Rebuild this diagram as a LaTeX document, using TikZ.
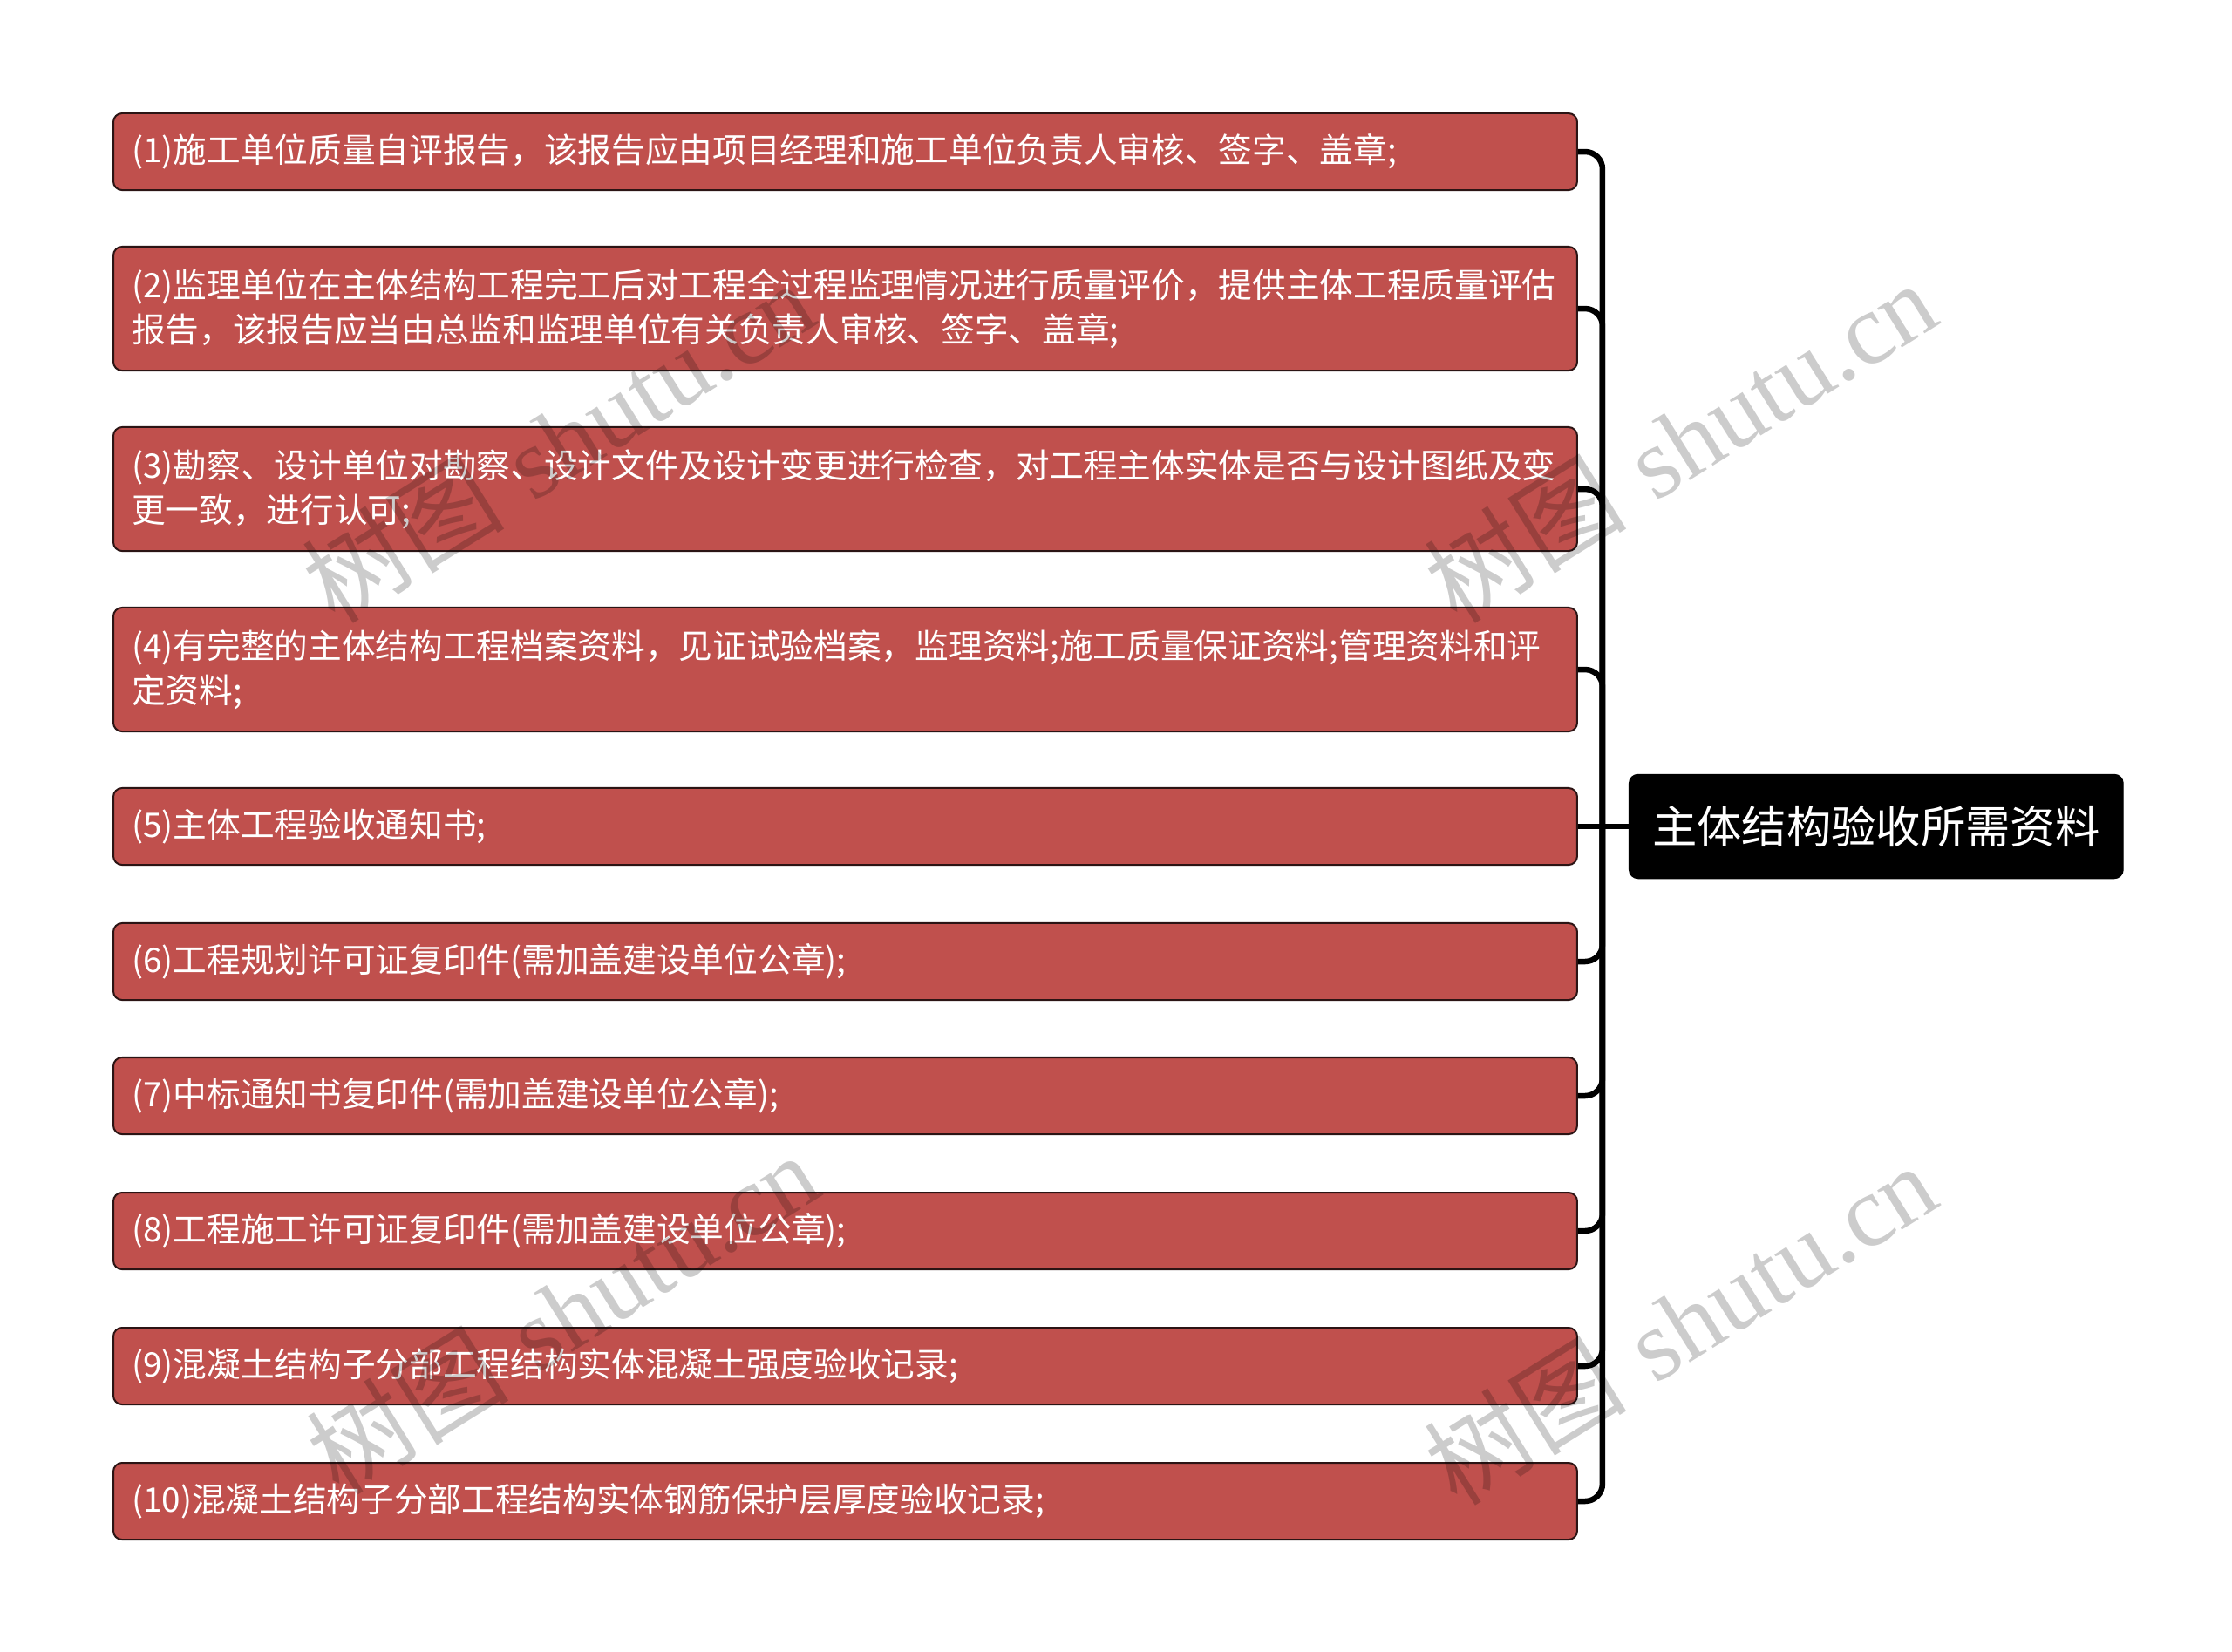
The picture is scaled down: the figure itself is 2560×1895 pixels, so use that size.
\documentclass[tikz,border=0pt]{standalone}
\usepackage{fontspec}
\newfontfamily\cjk{Noto Sans CJK SC}
\newfontfamily\wmserif{Liberation Serif}
\definecolor{leafred}{HTML}{C0504D}
\definecolor{leafborder}{HTML}{2B1414}
\tikzset{
  leaf/.style={rectangle, rounded corners=0.1cm, fill=leafred, draw=leafborder,
    line width=0.02cm, text=white, font=\cjk\fontsize{11}{14.5}\selectfont,
    inner xsep=0.21cm, inner ysep=0cm, text width=16.36cm, align=left,
    anchor=north west},
  single/.style={minimum height=0.88cm},
  double/.style={minimum height=1.42cm},
  rootbox/.style={rectangle, rounded corners=0.1cm, fill=black, draw=black,
    text=white, font=\cjk\fontsize{14.6}{18}\selectfont,
    minimum width=5.66cm, minimum height=1.19cm, anchor=west, inner sep=0pt},
  conn/.style={draw=black, line width=0.065cm, rounded corners=0.2cm},
  wm/.style={text=black, text opacity=0.2, rotate=32, inner sep=0pt,
    font=\fontsize{33}{33}\selectfont}
}
\newcommand{\wmtext}{{\cjk 树图}\hspace{0.3em}{\wmserif shutu.cn}}
\begin{document}
\begin{tikzpicture}[x=0.01cm, y=-0.01cm]
\path[use as bounding box, fill=white] (0,0) rectangle (2560,1895);

\node[leaf, single] (b1) at (129,129) {(1)施工单位质量自评报告，该报告应由项目经理和施工单位负责人审核、签字、盖章;};
\node[leaf, double] (b2) at (129,282) {(2)监理单位在主体结构工程完工后对工程全过程监理情况进行质量评价，提供主体工程质量评估\\报告，该报告应当由总监和监理单位有关负责人审核、签字、盖章;};
\node[leaf, double] (b3) at (129,489) {(3)勘察、设计单位对勘察、设计文件及设计变更进行检查，对工程主体实体是否与设计图纸及变\\更一致，进行认可;};
\node[leaf, double] (b4) at (129,696) {(4)有完整的主体结构工程档案资料，见证试验档案，监理资料;施工质量保证资料;管理资料和评\\定资料;};
\node[leaf, single] (b5) at (129,903) {(5)主体工程验收通知书;};
\node[leaf, single] (b6) at (129,1058) {(6)工程规划许可证复印件(需加盖建设单位公章);};
\node[leaf, single] (b7) at (129,1212) {(7)中标通知书复印件(需加盖建设单位公章);};
\node[leaf, single] (b8) at (129,1367) {(8)工程施工许可证复印件(需加盖建设单位公章);};
\node[leaf, single] (b9) at (129,1522) {(9)混凝土结构子分部工程结构实体混凝土强度验收记录;};
\node[leaf, single] (b10) at (129,1677) {(10)混凝土结构子分部工程结构实体钢筋保护层厚度验收记录;};

\path (b5.east) ++(28,0) coordinate (j);
\path (b5.east) ++(58,0) coordinate (rw);
\node[rootbox] (root) at (rw) {主体结构验收所需资料};

\foreach \b in {b1,b2,b3,b4,b6,b7,b8,b9,b10}{
  \draw[conn] (\b.east) -| (j);
}
\draw[conn] (b5.east) -- (root.west);

\node[wm] (w1) at (640,506) {\wmtext};
\node[wm] (w2) at (1927,506) {\wmtext};
\node[wm] (w3) at (645,1506) {\wmtext};
\node[wm] (w4) at (1927,1518) {\wmtext};
\end{tikzpicture}
\end{document}
